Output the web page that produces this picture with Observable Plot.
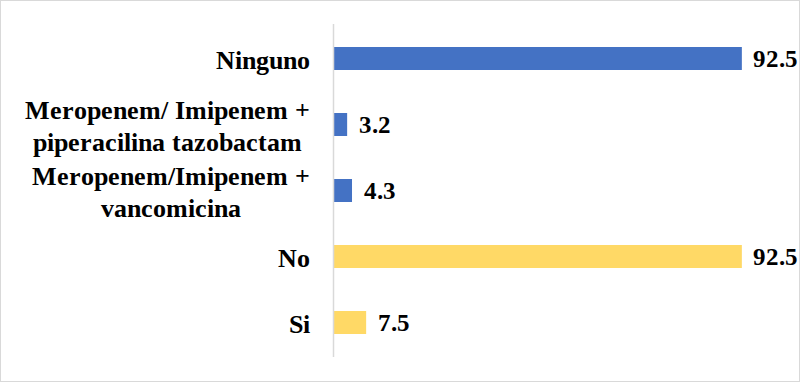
<!DOCTYPE html>
<html>
<head>
<meta charset="utf-8">
<script src="https://cdn.jsdelivr.net/npm/d3@7"></script>
<script src="https://cdn.jsdelivr.net/npm/@observablehq/plot@0.6"></script>
<style>
  @font-face { font-family: "ChartSerif"; font-weight: 700; font-style: normal;
    src: local("Liberation Serif Bold"), local("LiberationSerif-Bold"), local("Times New Roman Bold"), local("TimesNewRomanPS-BoldMT"); }
  @font-face { font-family: "ChartSerif"; font-weight: 400; font-style: normal;
    src: local("Liberation Serif"), local("LiberationSerif"), local("Times New Roman"); }
  html, body { margin: 0; padding: 0; background: #fff; }
  #wrap { position: relative; width: 800px; height: 382px; overflow: hidden; }
  #wrap svg { display: block; overflow: visible; }
  #wrap svg text, #wrap svg tspan { font-family: ChartSerif, "Liberation Serif", "Times New Roman", serif; }
  #border { position: absolute; left: 0; top: 0; width: 800px; height: 382px; box-sizing: border-box;
            border: 1.5px solid #d9d9d9; pointer-events: none; }
</style>
</head>
<body>
<div id="wrap"><div id="border"></div></div>
<script>
const categories = [
  "Ninguno",
  "Meropenem/ Imipenem +\npiperacilina tazobactam",
  "Meropenem/Imipenem +\nvancomicina",
  "No",
  "Si"
];
const values = [92.5, 3.2, 4.3, 92.5, 7.5];
const groups = ["Antibiótico", "Antibiótico", "Antibiótico", "Respuesta", "Respuesta"];
const groupNames = ["Antibiótico", "Respuesta"];
const groupColors = ["#4472C4", "#FFD966"];

const data = categories.map((c, i) => ({category: c, value: values[i], group: groups[i]}));
const serif = "ChartSerif, 'Liberation Serif', 'Times New Roman', serif";
const wrap = document.getElementById("wrap");
let current = null;

function render() {
  const chart = Plot.plot({
    width: 800,
    height: 382,
    marginLeft: 333,
    marginRight: 25,
    marginTop: 24,
    marginBottom: 25,
    style: "background: transparent; font-family: " + serif + ";",
    x: {domain: [0, 100], axis: null},
    y: {domain: categories, paddingInner: 0.65, paddingOuter: 0.325, label: null},
    color: {domain: groupNames, range: groupColors},
    marks: [
      Plot.barX(data, {x: "value", y: "category", fill: "group", insetLeft: 1}),
      Plot.ruleX([0], {stroke: "#d9d9d9", strokeWidth: 1.5}),
      Plot.axisY({
        tickSize: 0, tickPadding: 24, fontSize: 26, fontWeight: "bold",
        fill: "#000", lineHeight: 1.2, label: null
      }),
      Plot.text(data, {
        x: "value", y: "category", text: d => d.value.toFixed(1),
        textAnchor: "start", dx: 11, fontSize: 25, fontWeight: "bold", fill: "#000"
      })
    ]
  });
  if (current) current.replaceWith(chart);
  else wrap.insertBefore(chart, document.getElementById("border"));
  current = chart;
  chart.querySelectorAll("text").forEach(t => t.style.setProperty("font-family", serif));

  // Center multi-line category labels as blocks (Excel-style), keeping their right edge.
  chart.querySelectorAll('g[aria-label="y-axis tick label"] text').forEach(t => {
    const b = t.getBBox();
    const cx = b.x + b.width / 2;
    t.setAttribute("text-anchor", "middle");
    const spans = t.querySelectorAll("tspan");
    if (spans.length) spans.forEach(s => s.setAttribute("x", cx));
    else t.setAttribute("x", cx);
  });
}

render();
if (document.fonts && document.fonts.load) {
  Promise.all([
    document.fonts.load("bold 26px ChartSerif"),
    document.fonts.load("bold 25px ChartSerif")
  ]).then(() => requestAnimationFrame(render)).catch(() => {});
}
</script>
</body>
</html>
